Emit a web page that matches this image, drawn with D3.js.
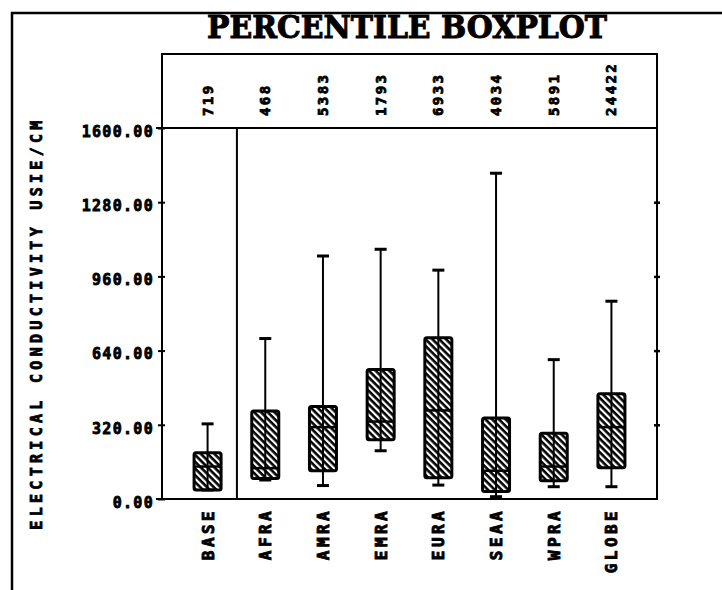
<!DOCTYPE html>
<html>
<head>
<meta charset="utf-8">
<script src="https://cdn.jsdelivr.net/npm/d3@7"></script>
<style>
  body { margin: 0; background: #fff; }
  text { fill: black; stroke: black; }
</style>
</head>
<body>
<div id="canvas"></div>
<script>
// Chart data
var categories = ["BASE", "AFRA", "AMRA", "EMRA", "EURA", "SEAA", "WPRA", "GLOBE"];
var counts = [719, 468, 5383, 1793, 6933, 4034, 5891, 24422];
var whiskerLow = [39, 82, 58, 208, 60, 10, 53, 53];
var q1 = [39, 88, 122, 255, 92, 32, 79, 135];
var median = [140, 133, 310, 334, 382, 122, 140, 310];
var q3 = [200, 380, 399, 558, 695, 349, 284, 454];
var whiskerHigh = [324, 692, 1048, 1077, 987, 1405, 601, 853];
var yTicks = [0, 320, 640, 960, 1280, 1600];

var w = 722, h = 590;
var plot = {left: 162, right: 657, top: 128, bottom: 499, header: 54};
var mono = "'DejaVu Sans Mono', 'Liberation Mono', monospace";

var svg = d3.select("#canvas")
    .append("svg")
    .attr("width", w)
    .attr("height", h)
    .style("background-color", "white");

// hatch pattern for the boxes
var defs = svg.append("defs");
defs.append("pattern")
    .attr("id", "hatch")
    .attr("patternUnits", "userSpaceOnUse")
    .attr("width", 4.8)
    .attr("height", 4.8)
    .attr("patternTransform", "rotate(45)")
    .append("rect")
    .attr("width", 4.8)
    .attr("height", 2.6)
    .attr("fill", "black");

// scales
var x = d3.scalePoint()
    .domain(categories)
    .range([plot.left, plot.right])
    .padding(0.79);

var y = d3.scaleLinear()
    .domain([0, 1600])
    .range([plot.bottom, plot.top]);

// outer frame (top and left only)
svg.append("path")
    .attr("d", `M12,${h} L12,13 L${w},13`)
    .attr("fill", "none")
    .attr("stroke", "black")
    .attr("stroke-width", 2.5);

// title
svg.append("text")
    .attr("x", 207)
    .attr("y", 38)
    .attr("textLength", 400)
    .attr("lengthAdjust", "spacingAndGlyphs")
    .style("font-family", "'DejaVu Serif', 'Liberation Serif', serif")
    .style("font-weight", "bold")
    .style("font-size", "31px")
    .style("stroke-width", 1)
    .text("PERCENTILE BOXPLOT");

// header box and plot frame
var frame = svg.append("g")
    .attr("fill", "none")
    .attr("stroke", "black")
    .attr("stroke-width", 2);
frame.append("rect")
    .attr("x", plot.left)
    .attr("y", plot.header)
    .attr("width", plot.right - plot.left)
    .attr("height", plot.bottom - plot.header);
frame.append("line")
    .attr("x1", plot.left - 6).attr("x2", plot.right)
    .attr("y1", y(1600)).attr("y2", y(1600));
frame.append("line")
    .attr("x1", plot.left - 6).attr("x2", plot.right)
    .attr("y1", y(0)).attr("y2", y(0));

// separator between BASE and the regions
var sepX = (x(categories[0]) + x(categories[1])) / 2 + 0.5;
frame.append("line")
    .attr("x1", sepX).attr("x2", sepX)
    .attr("y1", y(1600)).attr("y2", y(0));

// left axis
var yAxis = svg.append("g")
    .attr("transform", `translate(${plot.left},0)`)
    .call(d3.axisLeft(y).tickValues(yTicks).tickFormat(d3.format(".2f")).tickSize(5).tickPadding(3));
yAxis.select(".domain").remove();
yAxis.selectAll(".tick line").attr("stroke-width", 2).attr("x2", 3).attr("x1", -4);
yAxis.selectAll(".tick text")
    .attr("dy", "0.55em")
    .style("font-family", mono)
    .style("font-weight", "bold")
    .style("font-size", "15px")
    .style("letter-spacing", "1.3px")
    .style("stroke-width", 0.8);

// right axis ticks
var rAxis = svg.append("g")
    .attr("transform", `translate(${plot.right},0)`)
    .call(d3.axisRight(y).tickValues(yTicks.slice(1, 5)).tickFormat("").tickSize(4));
rAxis.select(".domain").remove();
rAxis.selectAll(".tick line").attr("stroke-width", 2.5).attr("x1", -3).attr("x2", 3);

// y axis title
svg.append("text")
    .attr("transform", `translate(42,323) rotate(-90)`)
    .attr("text-anchor", "middle")
    .style("font-family", mono)
    .style("font-weight", "bold")
    .style("font-size", "15px")
    .style("letter-spacing", "4.3px")
    .style("stroke-width", 0.8)
    .text("ELECTRICAL CONDUCTIVITY USIE/CM");

// counts in the header
svg.selectAll(".count")
    .data(categories)
    .join("text")
    .attr("class", "count")
    .attr("transform", (d, i) => `translate(${x(d) + 5},116) rotate(-90)`)
    .style("font-family", mono)
    .style("font-weight", "bold")
    .style("font-size", "14px")
    .style("letter-spacing", "2.4px")
    .style("stroke-width", 0.8)
    .text((d, i) => counts[i]);

// category labels
svg.selectAll(".cat")
    .data(categories)
    .join("text")
    .attr("class", "cat")
    .attr("transform", d => `translate(${x(d) + 6},508) rotate(-90)`)
    .attr("text-anchor", "end")
    .style("font-family", mono)
    .style("font-weight", "bold")
    .style("font-size", "16px")
    .style("letter-spacing", "3.4px")
    .style("stroke-width", 0.9)
    .text(d => d);

// boxes
var boxW = 27, capW = 12;
var boxes = svg.selectAll(".box")
    .data(categories)
    .join("g")
    .attr("class", "box")
    .attr("stroke", "black");

boxes.append("line")
    .attr("x1", d => x(d)).attr("x2", d => x(d))
    .attr("y1", (d, i) => y(whiskerHigh[i]))
    .attr("y2", (d, i) => y(whiskerLow[i]))
    .attr("stroke-width", 2);

boxes.append("line")
    .attr("x1", d => x(d) - capW / 2).attr("x2", d => x(d) + capW / 2)
    .attr("y1", (d, i) => y(whiskerHigh[i]))
    .attr("y2", (d, i) => y(whiskerHigh[i]))
    .attr("stroke-width", 3);

boxes.append("line")
    .attr("x1", d => x(d) - capW / 2).attr("x2", d => x(d) + capW / 2)
    .attr("y1", (d, i) => y(whiskerLow[i]))
    .attr("y2", (d, i) => y(whiskerLow[i]))
    .attr("stroke-width", 3);

boxes.append("rect")
    .attr("x", d => x(d) - boxW / 2)
    .attr("width", boxW)
    .attr("y", (d, i) => y(q3[i]))
    .attr("height", (d, i) => y(q1[i]) - y(q3[i]))
    .attr("rx", 2)
    .attr("fill", "url(#hatch)")
    .attr("stroke-width", 3);

boxes.append("line")
    .attr("x1", d => x(d) - boxW / 2).attr("x2", d => x(d) + boxW / 2)
    .attr("y1", (d, i) => y(median[i]))
    .attr("y2", (d, i) => y(median[i]))
    .attr("stroke-width", 2.5);
</script>
</body>
</html>
